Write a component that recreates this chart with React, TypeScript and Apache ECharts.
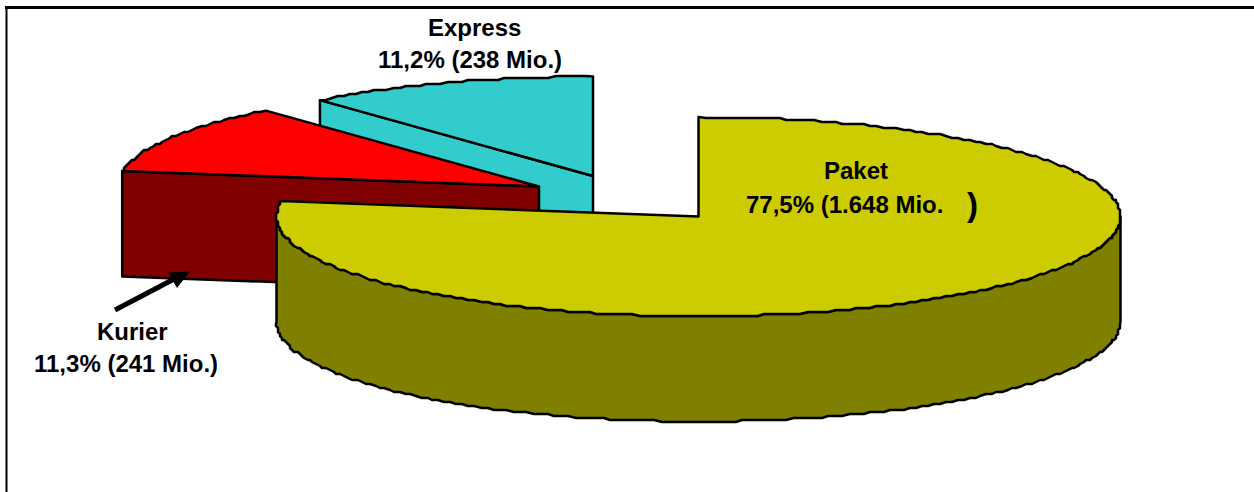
import React, { useEffect, useRef } from "react";
import * as echarts from "echarts";

// Shipment volume by segment
const segments = ["Paket", "Kurier", "Express"];
const shares = [77.5, 11.3, 11.2];
const millions = [1648, 241, 238];

// Pie layout, in chart pixels
const RX = 422;
const RY = 99.5;
const DEPTH = 105.5;
const GRID = 2;
const centers = [
  [698.5, 216.5],
  [539, 186.5],
  [593, 176],
];
const stacking = [3, 2, 1];
const topColors = ["#CCCC00", "#FF0000", "#33CCCC"];
const sideColors = ["#808000", "#800000", "#33CCCC"];
const labelFont = "bold 24px 'Liberation Sans', Arial, sans-serif";
const nameAnchors = [
  [824, 170],
  [97, 331],
  [428, 27],
];
const valueAnchors = [
  [746, 204],
  [34, 363],
  [378, 59],
];

const snap = (v: number) => Math.round(v / GRID) * GRID;

// Points along the rim between two clockwise angles (degrees from 12 o'clock)
function rim(cx: number, cy: number, from: number, to: number) {
  const pts: number[][] = [];
  const n = Math.max(1, Math.round(Math.abs(to - from)));
  for (let i = 0; i <= n; i++) {
    const t = ((from + ((to - from) * i) / n) * Math.PI) / 180;
    const x = i === 0 || i === n ? cx + RX * Math.sin(t) : snap(cx + RX * Math.sin(t));
    const y = i === 0 || i === n ? cy - RY * Math.cos(t) : snap(cy - RY * Math.cos(t));
    const last = pts[pts.length - 1];
    if (!last || last[0] !== x || last[1] !== y) pts.push([x, y]);
  }
  return pts;
}

function renderSlice(params: any, api: any) {
  const i = params.dataIndex;
  const share = api.value(1);
  const before = shares.slice(0, i).reduce((a, b) => a + b, 0);
  const start = (before / 100) * 360;
  const end = ((before + share) / 100) * 360;
  const center = api.coord(centers[i]);
  const [cx, cy] = center;
  const line = { stroke: "#000", lineWidth: 2.5, lineJoin: "round" };
  const children: any[] = [];
  const z2 = stacking[i];

  // Visible cut face: runs from the rim at the start angle to the hub
  if (start > 180 && start < 360) {
    const p = rim(cx, cy, start, start)[0];
    children.push({
      type: "polygon",
      z2,
      shape: {
        points: [p, [cx, cy], [cx, cy + DEPTH], [p[0], p[1] + DEPTH]],
      },
      style: { fill: sideColors[i], ...line },
    });
  }
  // Outer wall on the front half of the rim
  const wallFrom = Math.max(start, 90);
  const wallTo = Math.min(end, 270);
  if (wallTo > wallFrom) {
    const upper = rim(cx, cy, wallFrom, wallTo);
    const lower = rim(cx, cy + DEPTH, wallFrom, wallTo).reverse();
    children.push({
      type: "polygon",
      z2,
      shape: { points: [...upper, ...lower] },
      style: { fill: sideColors[i], ...line },
    });
  }
  children.push({
    type: "polygon",
    z2: z2 + 0.5,
    shape: { points: [[cx, cy], ...rim(cx, cy, start, end)] },
    style: { fill: topColors[i], ...line },
  });
  return { type: "group", children };
}

const labelText = (i: number) =>
  `${shares[i].toFixed(1).replace(".", ",")}% (${millions[i].toLocaleString("de-DE")} Mio.${i === 0 ? "" : ")"}`;

export default function App() {
  const ref = useRef<HTMLDivElement>(null);
  useEffect(() => {
    const chart = echarts.init(ref.current!, null, { renderer: "svg" });
    const textStyle = (text: string, at: number[]) => ({
      type: "text",
      x: at[0],
      y: at[1],
      z: 10,
      style: { text, font: labelFont, fill: "#000", verticalAlign: "middle" },
    });
    chart.setOption({
      animation: false,
      backgroundColor: "#fff",
      grid: { left: 0, right: 0, top: 0, bottom: 0 },
      xAxis: { type: "value", min: 0, max: 1254, show: false },
      yAxis: { type: "value", min: 0, max: 492, inverse: true, show: false },
      series: [
        {
          type: "custom",
          coordinateSystem: "cartesian2d",
          clip: false,
          silent: true,
          encode: { x: 0, y: 1 },
          data: shares.map((s, i) => [i, s]),
          renderItem: renderSlice,
        },
      ],
      graphic: [
        { type: "line", z: 9, shape: { x1: 5, y1: 7.5, x2: 1254, y2: 7.5 }, style: { stroke: "#000", lineWidth: 3 } },
        { type: "line", z: 9, shape: { x1: 6.5, y1: 7, x2: 6.5, y2: 492 }, style: { stroke: "#000", lineWidth: 2 } },
        // Arrow pointing at the Kurier slice
        { type: "line", z: 9, shape: { x1: 115, y1: 310, x2: 176, y2: 278 }, style: { stroke: "#000", lineWidth: 5 } },
        { type: "polygon", z: 9, shape: { points: [[168, 272.5], [190, 271.5], [177, 288]] }, style: { fill: "#000" } },
        ...segments.map((name, i) => textStyle(name, nameAnchors[i])),
        ...segments.map((_, i) => textStyle(labelText(i), valueAnchors[i])),
        // Closing bracket of the Paket label, set apart and larger
        { type: "text", x: 967, y: 204, z: 10, style: { text: ")", font: "bold 33px 'Liberation Sans', Arial, sans-serif", fill: "#000", verticalAlign: "middle" } },
      ],
    });
    return () => chart.dispose();
  }, []);
  return <div ref={ref} style={{ position: "absolute", left: 0, top: 0, width: 1254, height: 492 }} />;
}
